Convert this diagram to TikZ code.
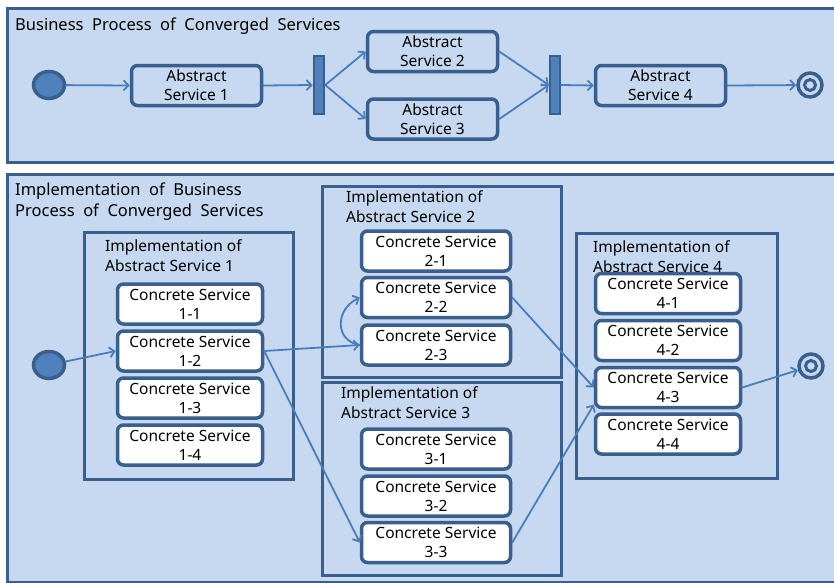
\documentclass[tikz,border=0pt]{standalone}
\usepackage{fontspec}
\setmainfont{Noto Sans}
\usetikzlibrary{arrows.meta,shapes.geometric}
\definecolor{panelfill}{HTML}{C6D9F1}
\definecolor{edge}{HTML}{3A5F8D}
\definecolor{flow}{HTML}{4A7EBB}
\definecolor{dotfill}{HTML}{4F81BD}

\begin{document}
\begin{tikzpicture}[x=1pt,y=-1pt,
  panel/.style={draw=edge, line width=3pt, fill=panelfill},
  implbox/.style={draw=edge, line width=3pt},
  title/.style={font=\fontsize{15.5}{20}\selectfont, anchor=north west, inner sep=0pt, align=left},
  bigtitle/.style={title, font=\fontsize{16.5}{21}\selectfont},
  abox/.style={draw=edge, line width=3.5pt, rounded corners=6pt, fill=panelfill,
    minimum width=130pt, minimum height=40pt, align=center, inner sep=0pt,
    font=\fontsize{15.5}{19}\selectfont},
  cbox/.style={abox, fill=white, minimum width=145pt, minimum height=40pt},
  cboxw/.style={cbox, minimum width=149pt},
  bar/.style={draw=edge, line width=2.5pt, fill=dotfill, minimum width=10pt,
    minimum height=58pt, inner sep=0pt},
  startdot/.style={ellipse, draw=edge, line width=3.5pt, fill=dotfill,
    minimum width=31pt, minimum height=27pt, inner sep=0pt},
  enddot/.style={circle, draw=edge, line width=3.5pt, fill=panelfill,
    minimum size=24pt, inner sep=0pt},
  endcore/.style={circle, draw=edge, line width=3pt, fill=panelfill,
    minimum size=11pt, inner sep=0pt},
  flowarr/.style={draw=flow, line width=1.8pt, line cap=round,
    -{Straight Barb[length=5pt,width=10pt,line width=1.8pt]}},
]
\clip (0,0) rectangle (834,582);
\useasboundingbox (0,0) rectangle (834,582);
\fill[white] (0,0) rectangle (834,582);

% ---------- business process panel ----------
\draw[panel] (7,8) rectangle (840,162);
\node[bigtitle] (bptitle) at (15,18) {Business\ \ Process\ \ of\ \ Converged\ \ Services};

\node[startdot] (s1) at (49,85) {};
\node[abox] (a1) at (196.5,85.5) {Abstract\\Service 1};
\node[bar] (fork) at (319,85) {};
\node[abox] (a2) at (432.5,51.5) {Abstract\\Service 2};
\node[abox] (a3) at (432.5,119) {Abstract\\Service 3};
\node[bar] (join) at (555,85) {};
\node[abox] (a4) at (660.5,85.5) {Abstract\\Service 4};
\node[enddot] (e1) at (810,85) {};
\node[endcore] (e1c) at (810,85) {};

\draw[flowarr] (s1) -- (a1.west);
\draw[flowarr] (a1.east) -- (fork.west);
\draw[flowarr] (fork.east) -- (a2.west);
\draw[flowarr] (fork.east) -- (a3.west);
\draw[flowarr] (a2.east) -- (join.west);
\draw[flowarr] (a3.east) -- (join.west);
\draw[flowarr] (join.east) -- (a4.west);
\draw[flowarr] (a4.east) -- (e1);

% ---------- implementation panel ----------
\draw[panel] (7,174) rectangle (840,582.5);
\node[bigtitle] (imtitle) at (15,183) {Implementation\ \ of\ \ Business\\Process\ \ of\ \ Converged\ \ Services};

\draw[implbox] (84,232) rectangle (293,479);
\draw[implbox] (322,186) rectangle (561,377);
\draw[implbox] (322,382) rectangle (561,575);
\draw[implbox] (576,233) rectangle (777,478);

\node[title] (t1) at (105,239) {Implementation of\\Abstract Service 1};
\node[title] (t2) at (346,190) {Implementation of\\Abstract Service 2};
\node[title] (t3) at (341,386) {Implementation of\\Abstract Service 3};
\node[title] (t4) at (593,240) {Implementation of\\Abstract Service 4};

\node[cbox] (c11) at (190,304) {Concrete Service\\1-1};
\node[cbox] (c12) at (190,351) {Concrete Service\\1-2};
\node[cbox] (c13) at (190,398) {Concrete Service\\1-3};
\node[cbox] (c14) at (190,445) {Concrete Service\\1-4};

\node[cboxw] (c21) at (436,251) {Concrete Service\\2-1};
\node[cboxw] (c22) at (436,297.5) {Concrete Service\\2-2};
\node[cboxw] (c23) at (436,345) {Concrete Service\\2-3};

\node[cboxw] (c31) at (436,449) {Concrete Service\\3-1};
\node[cboxw] (c32) at (436,496) {Concrete Service\\3-2};
\node[cboxw] (c33) at (436,542.5) {Concrete Service\\3-3};

\node[cbox] (c41) at (668,293.5) {Concrete Service\\4-1};
\node[cbox] (c42) at (668,340.5) {Concrete Service\\4-2};
\node[cbox] (c43) at (668,387.5) {Concrete Service\\4-3};
\node[cbox] (c44) at (668,434) {Concrete Service\\4-4};

\node[startdot] (s2) at (49,365) {};
\node[enddot] (e2) at (811,366) {};
\node[endcore] (e2c) at (811,366) {};

\draw[flowarr] (s2) -- (c12.west);
\draw[flowarr] (c12.east) -- (c23.west);
\draw[flowarr] (c12.east) -- (c33.west);
\draw[flowarr] (c23.west) .. controls +(-25,-4) and +(-25,12) .. (c22.west);
\draw[flowarr] (c22.east) -- (c43.west);
\draw[flowarr] (c33.east) -- (c43.193);
\draw[flowarr] (c43.east) -- (e2);
\end{tikzpicture}
\end{document}
